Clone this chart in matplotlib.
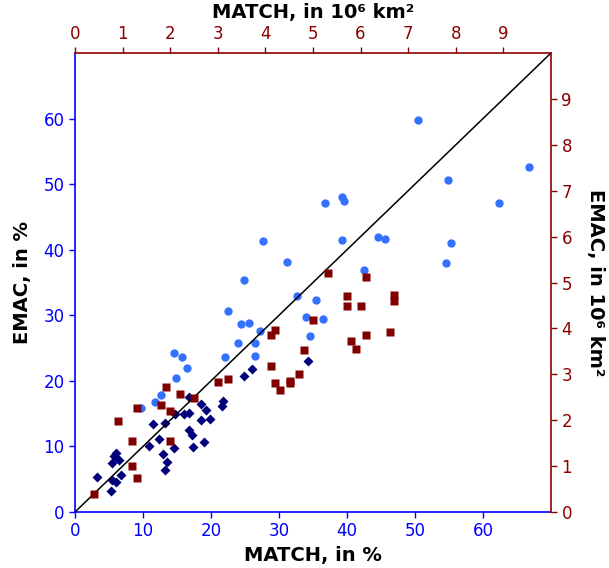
import matplotlib
matplotlib.use("Agg")
import matplotlib.pyplot as plt
import numpy as np

# Blue circles: relative extent (%)
pct_circ_x = [50.4, 66.8, 54.9, 62.3, 36.8, 39.2, 39.5, 39.3, 44.6, 45.6, 55.3, 54.5,
              42.5, 35.5, 33.9, 36.5, 34.6, 32.7, 27.6, 31.2, 24.9, 22.5, 24.4, 25.6,
              27.2, 23.9, 26.4, 26.5, 22.0, 14.5, 15.7, 16.5, 14.9, 12.6, 11.8, 9.7]
pct_circ_y = [59.8, 52.6, 50.6, 47.2, 47.1, 48.0, 47.5, 41.5, 42.0, 41.6, 41.1, 38.0,
              36.9, 32.4, 29.7, 29.4, 26.9, 33.0, 41.3, 38.2, 35.4, 30.7, 28.7, 28.8,
              27.6, 25.8, 25.8, 23.8, 23.6, 24.2, 23.7, 21.9, 20.5, 17.9, 16.7, 15.9]

# Navy diamonds: relative extent (%)
pct_diam_x = [16.7, 18.5, 19.3, 21.8, 21.6, 14.7, 16.0, 16.8, 11.5, 13.2, 18.5, 19.8,
              16.8, 17.2, 12.3, 10.9, 14.5, 17.3, 18.9, 12.9, 13.5, 13.3, 6.0, 5.8,
              5.4, 6.5, 3.2, 6.7, 5.5, 6.0, 5.3, 26.0, 24.8, 34.2]
pct_diam_y = [17.5, 16.4, 15.6, 16.9, 16.1, 14.9, 14.9, 15.1, 13.4, 13.5, 14.0, 14.2,
              12.5, 11.8, 11.1, 10.1, 9.8, 9.9, 10.6, 8.8, 7.7, 6.4, 9.0, 8.5,
              7.5, 7.9, 5.4, 5.7, 4.9, 4.6, 3.2, 21.8, 20.8, 23.1]

# Dark red squares: area (10^6 km^2)
area_x = [1.91, 2.21, 2.49, 1.81, 2.00, 1.30, 0.90, 3.00, 3.21, 1.20, 2.00, 1.20, 1.30, 0.40,
          4.20, 4.11, 5.00, 5.71, 6.01, 6.70, 5.79, 6.11, 5.90, 6.61, 4.81, 4.11, 4.71,
          4.51, 4.51, 4.20, 4.31, 5.31, 6.11, 5.71, 6.70]
area_y = [2.73, 2.58, 2.49, 2.34, 2.21, 2.27, 1.99, 2.84, 2.90, 1.55, 1.55, 1.01, 0.75, 0.40,
          3.97, 3.85, 4.19, 4.49, 4.49, 4.60, 3.73, 3.85, 3.55, 3.92, 3.53, 3.19, 3.01,
          2.85, 2.80, 2.80, 2.66, 5.21, 5.13, 4.71, 4.73]

pct_ticks = [0, 10, 20, 30, 40, 50, 60]
area_ticks = [0, 1, 2, 3, 4, 5, 6, 7, 8, 9]

BLUE = "#0000ff"
RED = "#8b0000"
CIRC = "#3471ff"
NAVY = "#00007a"
SQ = "#800000"

fig = plt.figure(figsize=(6.09, 5.68), dpi=100)
pos = [75/609, 1 - 512/568, (551-75)/609, (512-53)/568]

ax = fig.add_axes(pos)
ax.set_xlim(0, 70)
ax.set_ylim(0, 70)
ax.plot([0, 70], [0, 70], color="black", lw=1.1, zorder=5)
ax.plot(pct_circ_x, pct_circ_y, "o", color=CIRC, ms=6, mec="none", zorder=3)
ax.plot(pct_diam_x, pct_diam_y, "D", color=NAVY, ms=5.5, mec="none", zorder=3)
ax.set_xticks(pct_ticks)
ax.set_yticks(pct_ticks)
ax.tick_params(axis="both", colors=BLUE, labelsize=12, width=1, length=4, direction="out")
for s in ["left", "bottom"]:
    ax.spines[s].set_color(BLUE)
    ax.spines[s].set_linewidth(1.2)
ax.spines["top"].set_visible(False)
ax.spines["right"].set_visible(False)
ax.set_xlabel("MATCH, in %", fontsize=14, fontweight="bold", labelpad=4)
ax.set_ylabel("EMAC, in %", fontsize=14, fontweight="bold", labelpad=8)

axk = fig.add_axes(pos, frameon=False)
axk.set_xlim(0, 10)
axk.set_ylim(0, 10)
axk.plot(area_x, area_y, "s", color=SQ, ms=6, mec="none", zorder=4)
axk.xaxis.set_ticks_position("top")
axk.xaxis.set_label_position("top")
axk.yaxis.set_ticks_position("right")
axk.yaxis.set_label_position("right")
axk.set_xticks(area_ticks)
axk.set_yticks(area_ticks)
axk.tick_params(axis="both", colors=RED, labelsize=12, width=1, length=4, direction="out")
axk.set_frame_on(True)
axk.patch.set_visible(False)
for s in ["top", "right"]:
    axk.spines[s].set_color(RED)
    axk.spines[s].set_linewidth(1.2)
axk.spines["left"].set_visible(False)
axk.spines["bottom"].set_visible(False)
axk.set_xlabel("MATCH, in 10⁶ km²", fontsize=14, fontweight="bold", labelpad=5)
axk.set_ylabel("EMAC, in 10⁶ km²", fontsize=14, fontweight="bold", rotation=-90, labelpad=24)

fig.savefig("out.png", dpi=100)
